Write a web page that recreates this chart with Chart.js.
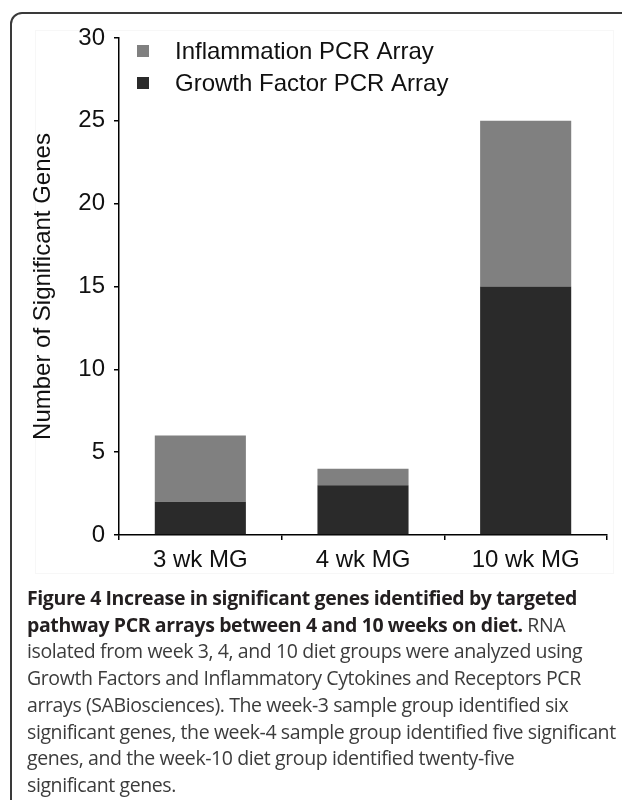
<!DOCTYPE html>
<html>
<head>
<meta charset="utf-8">
<script src="https://cdn.jsdelivr.net/npm/chart.js@4"></script>
<style>
    body { margin: 0; width: 622px; height: 800px; background: #fff; overflow: hidden; position: relative; }
    .frame { position: absolute; left: 10px; top: 12px; width: 700px; height: 900px; border: 2px solid #3a3a3a; border-radius: 12px; }
    .plot-box { position: absolute; left: 35px; top: 30px; width: 577px; height: 542px; border: 1px solid #f7f7f7; }
    #chart-wrap { position: absolute; left: 0; top: 0; width: 622px; height: 590px; }
    .caption { position: absolute; left: 27px; top: 585px; white-space: nowrap; font-family: "Open Sans", sans-serif; font-size: 19.5px; line-height: 26.7px; letter-spacing: -0.4px; color: #3c3c3c; }
    .caption b { color: #231f20; font-weight: 700; }
</style>
</head>
<body>
<div class="frame"></div>
<div class="plot-box"></div>
<div id="chart-wrap"><canvas id="chart"></canvas></div>
<div class="caption">
    <b>Figure 4 Increase in significant genes identified by targeted</b><br>
    <b>pathway PCR arrays between 4 and 10 weeks on diet.</b> RNA<br>
    isolated from week 3, 4, and 10 diet groups were analyzed using<br>
    Growth Factors and Inflammatory Cytokines and Receptors PCR<br>
    arrays (SABiosciences). The week-3 sample group identified six<br>
    significant genes, the week-4 sample group identified five significant<br>
    genes, and the week-10 diet group identified twenty-five<br>
    significant genes.
</div>
<script>
// Chart data
const categories = ['3 wk MG', '4 wk MG', '10 wk MG'];
const growthFactor = [2, 3, 15];
const inflammation = [4, 1, 10];
const yTicks = [0, 5, 10, 15, 20, 25, 30];

const FONT = '"Liberation Sans", Arial, sans-serif';

// Legend drawn inside the plot area, top-left
const insideLegend = {
    id: 'insideLegend',
    afterDraw(chart) {
        const ctx = chart.ctx;
        const items = chart.data.datasets.slice().reverse();
        ctx.save();
        ctx.font = '24px ' + FONT;
        ctx.textBaseline = 'middle';
        items.forEach((ds, i) => {
            const y = 51 + i * 32;
            ctx.fillStyle = ds.backgroundColor;
            ctx.fillRect(137, y - 6, 12, 12);
            ctx.fillStyle = '#111';
            ctx.fillText(ds.label, 175, y + 1);
        });
        ctx.restore();
    }
};

new Chart(document.getElementById('chart'), {
    type: 'bar',
    data: {
        labels: categories,
        datasets: [
            {
                label: 'Growth Factor PCR Array',
                data: growthFactor,
                backgroundColor: '#2a2a2a',
                categoryPercentage: 0.8,
                barPercentage: 0.7
            },
            {
                label: 'Inflammation PCR Array',
                data: inflammation,
                backgroundColor: '#808080',
                categoryPercentage: 0.8,
                barPercentage: 0.7
            }
        ]
    },
    options: {
        responsive: true,
        maintainAspectRatio: false,
        animation: false,
        layout: { padding: { left: 25, right: 15, top: 38, bottom: 0 } },
        plugins: {
            legend: { display: false },
            tooltip: { enabled: false }
        },
        scales: {
            x: {
                stacked: true,
                afterFit: s => { s.height = 55; },
                border: { display: true, color: '#000', width: 1.5 },
                grid: { drawOnChartArea: false, drawTicks: true, tickLength: 5, color: '#000', lineWidth: 1.5 },
                ticks: { color: '#111', padding: 6, font: { family: FONT, size: 24 } }
            },
            y: {
                stacked: true,
                min: 0,
                max: 30,
                afterFit: s => { s.width = 119 - 25; },
                afterBuildTicks: s => { s.ticks = yTicks.map(v => ({ value: v })); },
                border: { display: true, color: '#000', width: 1.5 },
                grid: { drawOnChartArea: false, drawTicks: true, tickLength: 5, color: '#000', lineWidth: 1.5 },
                ticks: { color: '#111', padding: 9, font: { family: FONT, size: 24 } },
                title: {
                    display: true,
                    text: 'Number of Significant Genes',
                    color: '#111',
                    padding: { top: 4, bottom: 0 },
                    font: { family: FONT, size: 24 }
                }
            }
        }
    },
    plugins: [insideLegend]
});
</script>
</body>
</html>
